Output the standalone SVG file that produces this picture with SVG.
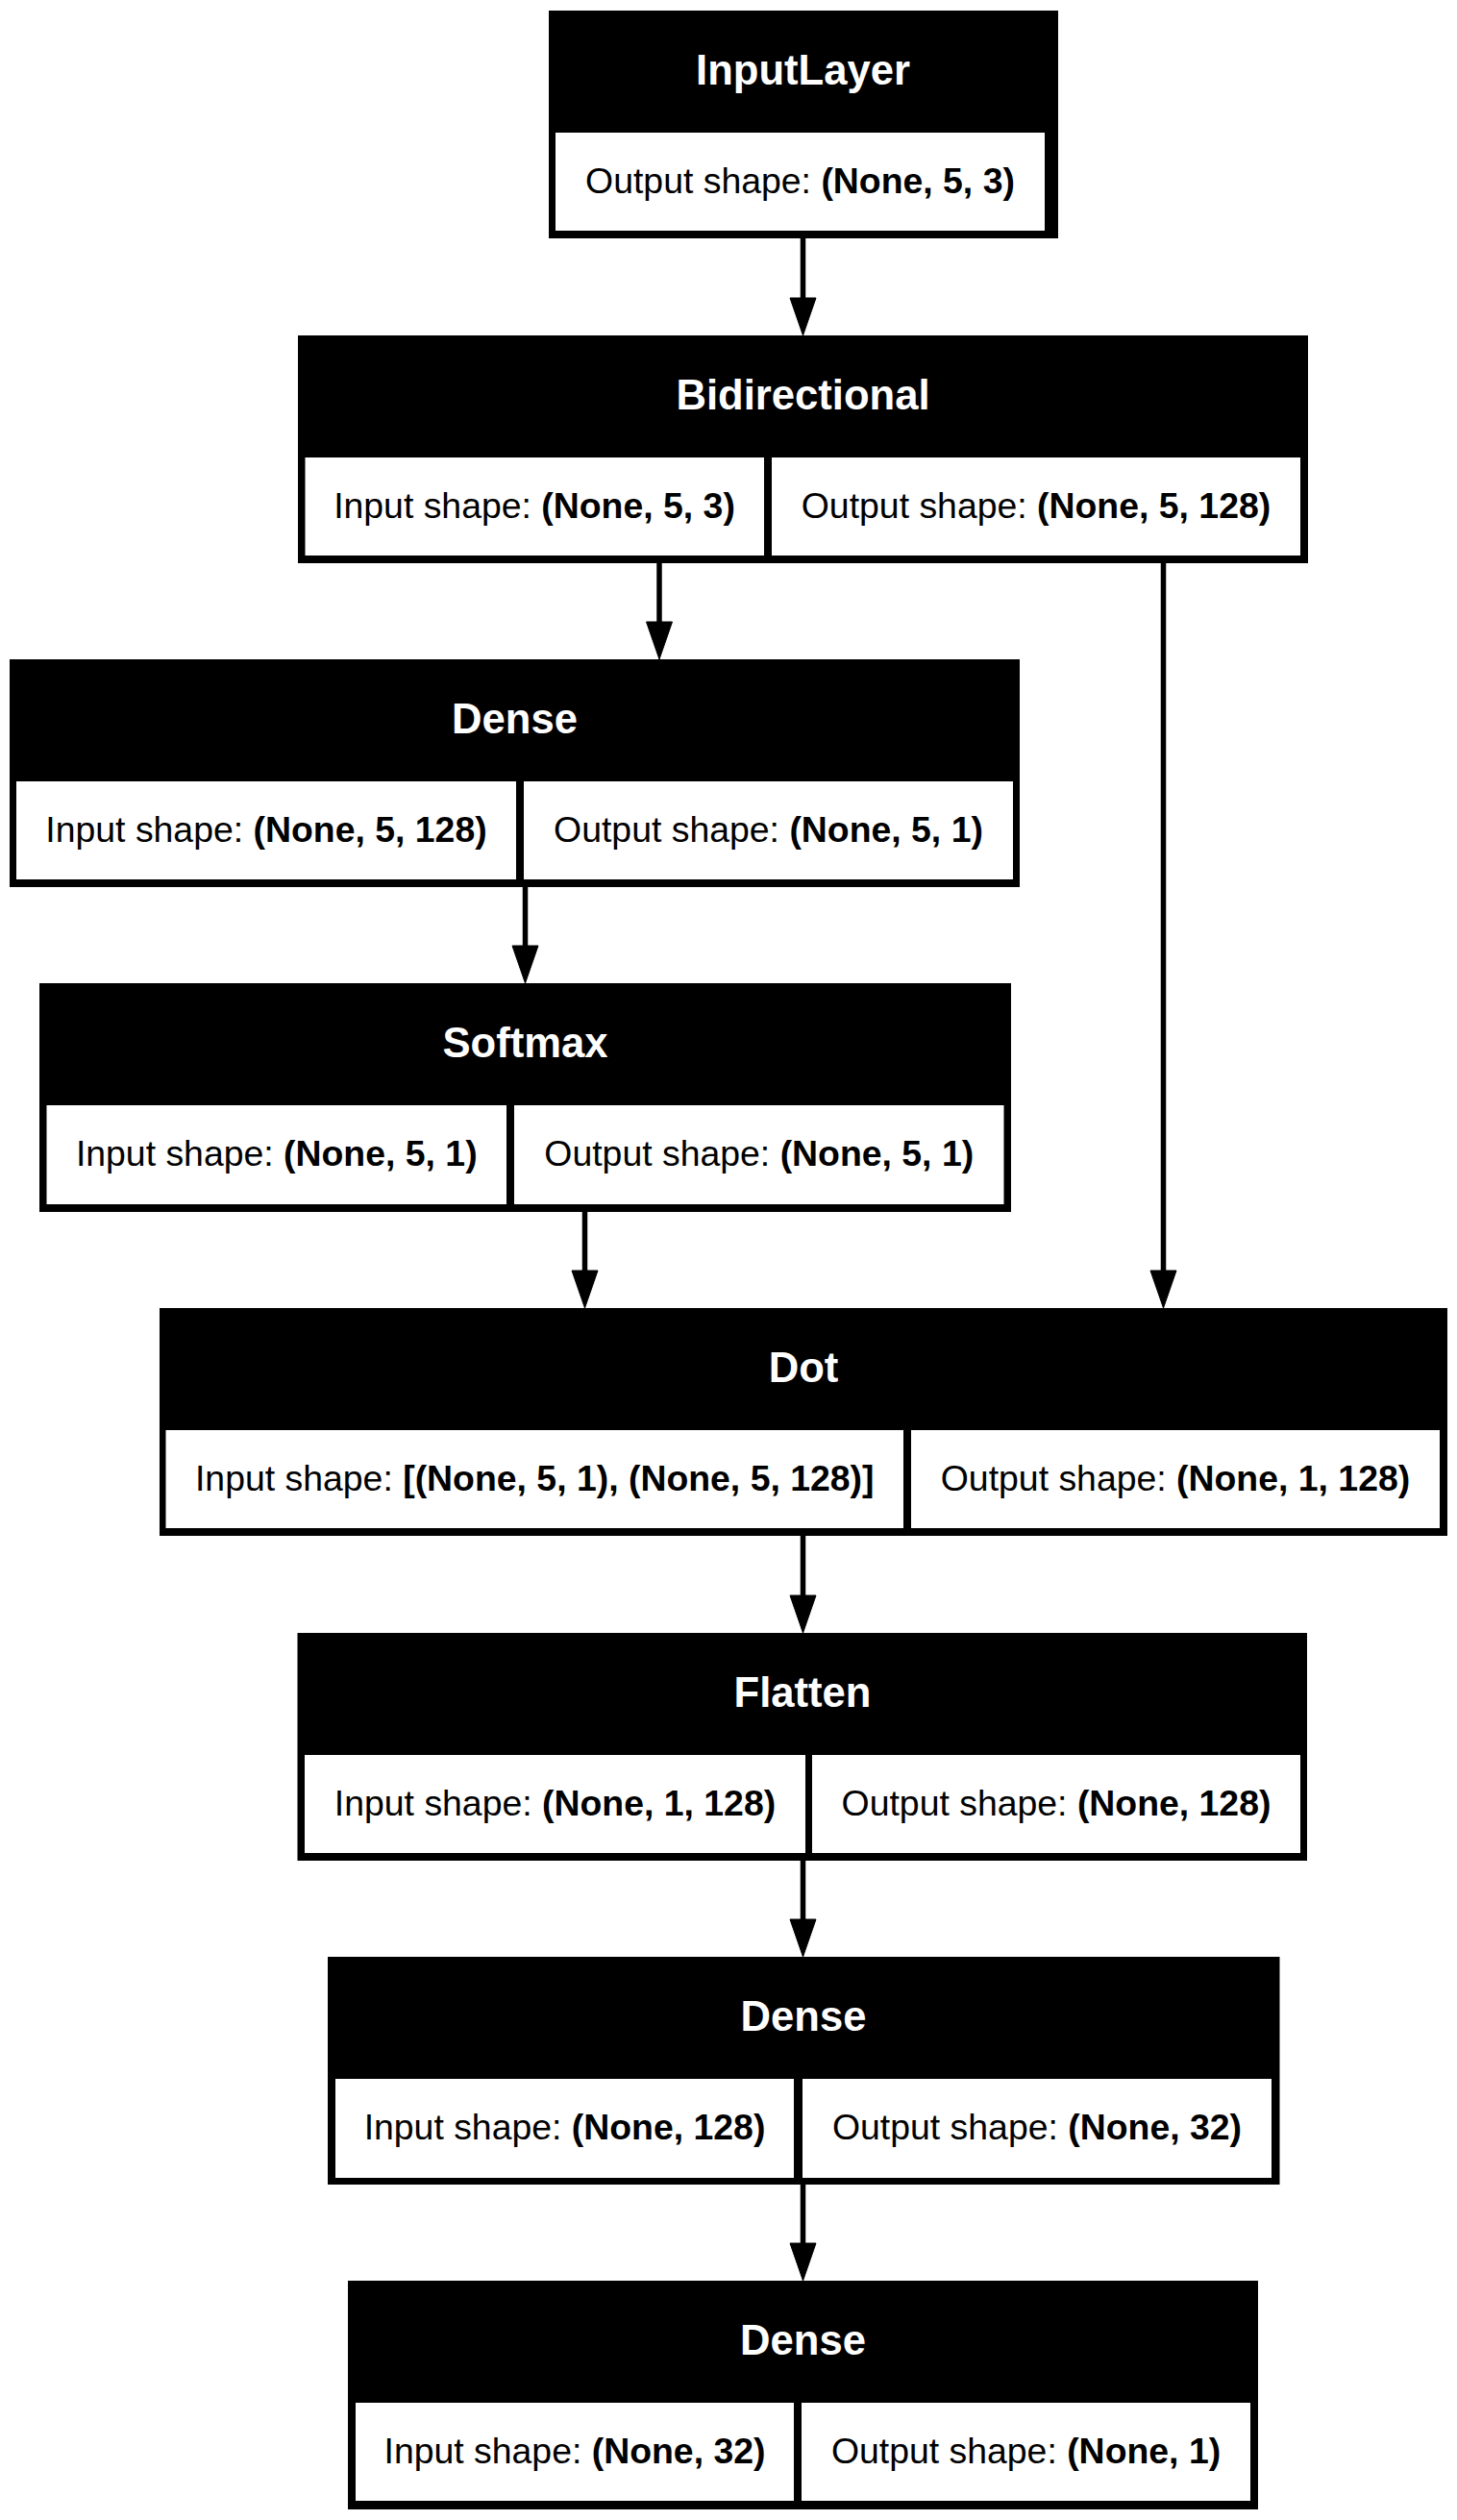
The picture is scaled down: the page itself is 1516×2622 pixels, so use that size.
<svg xmlns="http://www.w3.org/2000/svg" width="1516" height="2622" viewBox="0 0 1516 2622">
<style>
.box{fill:#000}
.cell{fill:#fff}
.title{font-family:"Liberation Sans",Arial,sans-serif;font-size:43.6px;font-weight:bold;fill:#fff;text-anchor:middle}
.body{font-family:"Liberation Sans",Arial,sans-serif;font-size:37.4px;fill:#000;text-anchor:middle}
.b{font-weight:bold}
.edge{stroke:#000;stroke-width:5.5;fill:none}
.head{fill:#000;stroke:#000;stroke-width:1}
</style>
<rect x="0" y="0" width="1516" height="2622" fill="#fff"/>
<g id="connectors">
<line class="edge" x1="835.5" y1="248" x2="835.5" y2="312"/>
<polygon class="head" points="822,310 849,310 835.5,349"/>
<line class="edge" x1="686" y1="586" x2="686" y2="649"/>
<polygon class="head" points="672.5,647 699.5,647 686,686"/>
<line class="edge" x1="1210.5" y1="586" x2="1210.5" y2="1324"/>
<polygon class="head" points="1197,1322 1224,1322 1210.5,1361"/>
<line class="edge" x1="546.5" y1="923" x2="546.5" y2="986"/>
<polygon class="head" points="533,984 560,984 546.5,1023"/>
<line class="edge" x1="608.5" y1="1261" x2="608.5" y2="1324"/>
<polygon class="head" points="595,1322 622,1322 608.5,1361"/>
<line class="edge" x1="835.5" y1="1598" x2="835.5" y2="1662"/>
<polygon class="head" points="822,1660 849,1660 835.5,1699"/>
<line class="edge" x1="835.5" y1="1936" x2="835.5" y2="1999"/>
<polygon class="head" points="822,1997 849,1997 835.5,2036"/>
<line class="edge" x1="835.5" y1="2273" x2="835.5" y2="2336"/>
<polygon class="head" points="822,2334 849,2334 835.5,2373"/>
</g>
<g id="node-inputlayer">
<rect class="box" x="571" y="11" width="530" height="237"/>
<rect class="cell" x="578" y="138" width="509" height="102"/>
<text class="title" x="835.5" y="88">InputLayer</text>
<text class="body" x="832.5" y="201">Output shape: <tspan class="b">(None, 5, 3)</tspan></text>
</g>
<g id="node-bidirectional">
<rect class="box" x="310" y="349" width="1051" height="237"/>
<rect class="cell" x="317.5" y="476" width="477.5" height="102"/>
<rect class="cell" x="803" y="476" width="550" height="102"/>
<text class="title" x="835.5" y="426">Bidirectional</text>
<text class="body" x="556" y="539">Input shape: <tspan class="b">(None, 5, 3)</tspan></text>
<text class="body" x="1078" y="539">Output shape: <tspan class="b">(None, 5, 128)</tspan></text>
</g>
<g id="node-dense-1">
<rect class="box" x="10" y="686" width="1051" height="237"/>
<rect class="cell" x="17" y="813" width="520" height="102"/>
<rect class="cell" x="545" y="813" width="509" height="102"/>
<text class="title" x="535.5" y="763">Dense</text>
<text class="body" x="277" y="876">Input shape: <tspan class="b">(None, 5, 128)</tspan></text>
<text class="body" x="799.5" y="876">Output shape: <tspan class="b">(None, 5, 1)</tspan></text>
</g>
<g id="node-softmax">
<rect class="box" x="41" y="1023" width="1011" height="238"/>
<rect class="cell" x="48.5" y="1150" width="478.5" height="103"/>
<rect class="cell" x="535" y="1150" width="509.5" height="103"/>
<text class="title" x="546.5" y="1100">Softmax</text>
<text class="body" x="287.75" y="1213">Input shape: <tspan class="b">(None, 5, 1)</tspan></text>
<text class="body" x="789.75" y="1213">Output shape: <tspan class="b">(None, 5, 1)</tspan></text>
</g>
<g id="node-dot">
<rect class="box" x="166" y="1361" width="1340" height="237"/>
<rect class="cell" x="172.5" y="1488" width="767.5" height="102"/>
<rect class="cell" x="948" y="1488" width="550" height="102"/>
<text class="title" x="836" y="1438">Dot</text>
<text class="body" x="556.25" y="1551">Input shape: <tspan class="b">[(None, 5, 1), (None, 5, 128)]</tspan></text>
<text class="body" x="1223" y="1551">Output shape: <tspan class="b">(None, 1, 128)</tspan></text>
</g>
<g id="node-flatten">
<rect class="box" x="309.5" y="1699" width="1050.5" height="237"/>
<rect class="cell" x="317" y="1826" width="521" height="102"/>
<rect class="cell" x="845" y="1826" width="508" height="102"/>
<text class="title" x="835" y="1776">Flatten</text>
<text class="body" x="577.5" y="1889">Input shape: <tspan class="b">(None, 1, 128)</tspan></text>
<text class="body" x="1099" y="1889">Output shape: <tspan class="b">(None, 128)</tspan></text>
</g>
<g id="node-dense-2">
<rect class="box" x="341" y="2036" width="990.5" height="237"/>
<rect class="cell" x="349" y="2163" width="477" height="103"/>
<rect class="cell" x="835" y="2163" width="488" height="103"/>
<text class="title" x="836" y="2113">Dense</text>
<text class="body" x="587.5" y="2226">Input shape: <tspan class="b">(None, 128)</tspan></text>
<text class="body" x="1079" y="2226">Output shape: <tspan class="b">(None, 32)</tspan></text>
</g>
<g id="node-dense-3">
<rect class="box" x="362" y="2373" width="947" height="238"/>
<rect class="cell" x="370" y="2500" width="456" height="102"/>
<rect class="cell" x="834" y="2500" width="467" height="102"/>
<text class="title" x="835.5" y="2450">Dense</text>
<text class="body" x="598" y="2563">Input shape: <tspan class="b">(None, 32)</tspan></text>
<text class="body" x="1067.5" y="2563">Output shape: <tspan class="b">(None, 1)</tspan></text>
</g>
</svg>
